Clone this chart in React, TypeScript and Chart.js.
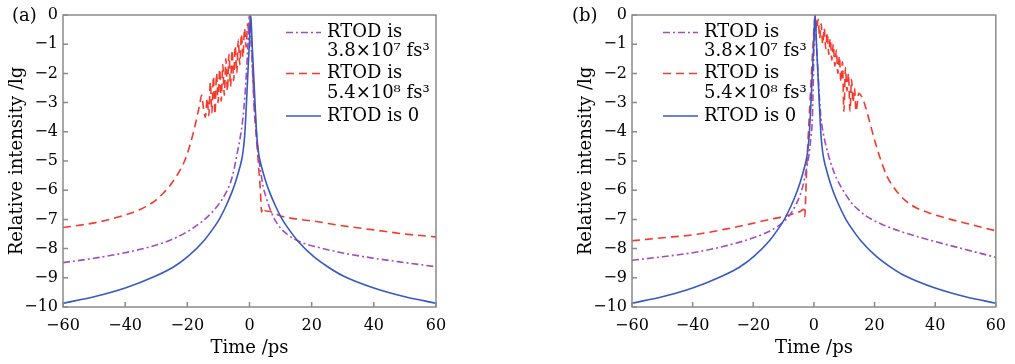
import React, { useEffect, useRef } from 'react';
import { Chart, registerables } from 'chart.js';

Chart.register(...registerables);

// ---------- data ----------
const X_MIN = -60;
const X_MAX = 60;
const X_STEP = 20;
const Y_MIN = -10;
const Y_MAX = 0;
const Y_STEP = 1;

const X_TITLE = 'Time /ps';
const Y_TITLE = 'Relative intensity /lg';
const LEGEND_TEXT = [
  ['RTOD is', '3.8×10⁷ fs³'],
  ['RTOD is', '5.4×10⁸ fs³'],
  ['RTOD is 0'],
];

// RTOD = 0 (same in both panels)
const BLUE_T = [-60, -50, -40, -30, -24.6, -19.6, -14.6, -11.6, -9.6, -7.6, -5.6, -4.6, -3.6, -2.6, -2.1, -1.6, -1.3, -0.9, -0.5, -0.05, 0.4,
  0.85, 1.3, 1.7, 2.1, 2.4, 2.9, 3.4, 4.4, 5.4, 6.4, 8.4, 10.4, 12.4, 15.4, 20.4, 25.4, 30, 40, 50, 60];
const BLUE_V = [-9.87, -9.65, -9.35, -8.93, -8.64, -8.25, -7.72, -7.3, -6.97, -6.55, -6.05, -5.75, -5.4, -5.0, -4.7, -4.2, -3.7, -2.85, -1.95, -1.0, 0,
  -1.0, -1.95, -2.85, -3.7, -4.2, -4.7, -5.0, -5.4, -5.75, -6.05, -6.55, -6.97, -7.3, -7.72, -8.25, -8.64, -8.93, -9.35, -9.65, -9.87];

// panel (a): RTOD = 3.8e7 fs^3
const A_PURPLE_T = [-60, -50, -40, -30, -25, -20, -15, -12, -10, -8, -6, -5, -4, -3, -2.2, -1.5, -1, -0.5, 0,
  0.5, 1, 1.5, 1.9, 2.8, 3.5, 4.4, 5.5, 7, 8.2, 10, 12, 14, 17, 20, 30, 40, 50, 60];
const A_PURPLE_V = [-8.48, -8.33, -8.14, -7.88, -7.69, -7.42, -7.05, -6.75, -6.5, -6.17, -5.7, -5.3, -4.75, -4.2, -3.6, -2.8, -2.0, -1.0, 0,
  -0.9, -2.0, -3.0, -3.6, -4.73, -5.3, -5.88, -6.3, -6.75, -7.02, -7.3, -7.5, -7.65, -7.8, -7.9, -8.15, -8.33, -8.48, -8.62];

// panel (a): RTOD = 5.4e8 fs^3
const A_RED_T = [-60, -50, -45, -40, -35, -32, -30, -28, -26, -24, -22, -20.5, -19, -18, -17, -16, -15.4,
  -14.8, -14.2, -13.6, -13.1, -12.6, -12.1, -11.6, -11.1, -10.6, -10.1, -9.6, -9.1, -8.6, -8.1, -7.6, -7.1, -6.6, -6.1, -5.6, -5.1, -4.6, -4.1, -3.6, -3.1, -2.6, -2.1, -1.6, -1.1, -0.6, -0.2, 0.2,
  0.5, 1.0, 1.5, 2.0, 2.5, 3.0, 3.5, 3.9, 4.3, 5.0, 6.6, 10, 16, 20, 30, 40, 50, 60];
const A_RED_V = [-7.28, -7.12, -7.0, -6.85, -6.65, -6.48, -6.33, -6.13, -5.9, -5.6, -5.25, -4.9, -4.4, -4.0, -3.55, -3.05, -2.74,
  -3.2, -3.5, -2.85, -3.45, -2.3, -3.35, -2.1, -3.4, -2.0, -3.0, -1.85, -2.95, -1.7, -2.75, -1.5, -2.6, -1.35, -2.45, -1.2, -2.25, -1.05, -2.0, -0.85, -1.7, -0.65, -1.45, -0.45, -1.1, -0.3, -0.6, 0,
  -0.5, -1.8, -3.2, -3.9, -4.6, -5.3, -6.0, -6.75, -6.6, -6.7, -6.73, -6.88, -7.0, -7.05, -7.22, -7.36, -7.5, -7.6];

// panel (b): RTOD = 3.8e7 fs^3
const B_PURPLE_T = [-60, -50, -40, -30, -20, -15, -12, -10, -8.5, -7, -5.5, -4.5, -3.5, -2.6, -1.55, -1, -0.5, -0.2, 0.1, 0.3,
  0.7, 1.2, 1.8, 2.4, 3.0, 3.8, 4.6, 5.5, 6.5, 7.5, 8.9, 10.5, 12.5, 15, 17, 20, 25, 30, 40, 50, 60];
const B_PURPLE_V = [-8.4, -8.28, -8.14, -7.93, -7.63, -7.42, -7.24, -7.08, -6.92, -6.7, -6.4, -6.15, -5.8, -5.35, -4.73, -4.2, -3.5, -2.2, -0.6, 0,
  -0.7, -1.7, -2.8, -3.6, -4.0, -4.4, -4.73, -5.05, -5.35, -5.6, -5.88, -6.15, -6.45, -6.7, -6.87, -7.05, -7.28, -7.46, -7.76, -8.03, -8.3];

// panel (b): RTOD = 5.4e8 fs^3
const B_RED_T = [-60, -50, -40, -30, -20, -15.4, -10, -6, -4.5, -3.3, -3.0, -2.7, -2.4, -2.0, -1.6, -1.0, -0.4, 0.2, 0.5,
  0.9, 1.4, 1.9, 2.4, 2.9, 3.4, 3.9, 4.4, 4.9, 5.4, 5.9, 6.4, 6.9, 7.4, 7.9, 8.4, 8.9, 9.4, 9.9, 10.4, 10.9, 11.4, 11.9, 12.4, 12.9, 13.4, 13.9, 14.8,
  16, 17, 18.5, 20, 22, 24, 27, 30, 34, 37.5, 40, 50, 60];
const B_RED_V = [-7.73, -7.63, -7.53, -7.35, -7.13, -7.02, -6.9, -6.78, -6.73, -6.65, -6.9, -6.2, -5.3, -4.4, -3.6, -2.4, -1.2, -0.2, 0,
  -0.5, -0.15, -0.8, -0.3, -1.0, -0.45, -1.15, -0.6, -1.35, -0.8, -1.55, -1.0, -1.75, -1.2, -2.0, -1.4, -2.3, -1.6, -3.3, -1.8, -2.6, -2.0, -3.3, -2.2, -3.0, -2.5, -3.3, -2.68,
  -2.85, -3.14, -3.7, -4.28, -4.95, -5.5, -6.0, -6.34, -6.62, -6.76, -6.85, -7.13, -7.39];

// ---------- styles ----------
const PURPLE = '#a24bc2';
const RED = '#f5392c';
const BLUE = '#3759c4';
const FRAME = '#8a8a8a';
const TEXT = '#000';
const FONT = "'DejaVu Serif', 'Liberation Serif', serif";

const toXY = (t: number[], v: number[]) => t.map((x, i) => ({ x, y: v[i] }));
const fmt = (v: number | string) => String(v).replace('-', '\u2212');

const framePlugin = {
  id: 'frame',
  afterDatasetsDraw(chart: any, _args: any, opts: any) {
    const { ctx, chartArea } = chart;
    const { left, right, top, bottom } = chartArea;
    const xs = chart.scales.x;
    const ys = chart.scales.y;
    ctx.save();
    ctx.strokeStyle = FRAME;
    ctx.lineWidth = 1.5;
    ctx.setLineDash([]);
    ctx.strokeRect(left, top, right - left, bottom - top);
    ctx.beginPath();
    xs.ticks.forEach((t: any) => {
      const px = xs.getPixelForValue(t.value);
      ctx.moveTo(px, bottom);
      ctx.lineTo(px, bottom - 5);
    });
    ys.ticks.forEach((t: any) => {
      const py = ys.getPixelForValue(t.value);
      ctx.moveTo(left, py);
      ctx.lineTo(left + 5, py);
    });
    ctx.stroke();

    const lx = left + opts.legendX;
    const rowY = [17.5, 36.5, 58.5, 78.5, 101];
    let row = 0;
    ctx.font = `18px ${FONT}`;
    ctx.textBaseline = 'middle';
    ctx.textAlign = 'left';
    chart.data.datasets.forEach((ds: any, i: number) => {
      const lines = opts.legendText[i];
      const y0 = top + rowY[row];
      ctx.strokeStyle = ds.borderColor;
      ctx.lineWidth = 1.6;
      ctx.setLineDash(ds.borderDash || []);
      ctx.beginPath();
      ctx.moveTo(lx, y0);
      ctx.lineTo(lx + 35, y0);
      ctx.stroke();
      ctx.setLineDash([]);
      ctx.fillStyle = TEXT;
      lines.forEach((s: string) => {
        ctx.fillText(s, lx + 41, top + rowY[row]);
        row++;
      });
    });

    ctx.font = `18px ${FONT}`;
    ctx.fillStyle = TEXT;
    ctx.textAlign = 'left';
    ctx.textBaseline = 'middle';
    ctx.fillText(opts.label, opts.labelX, top + 1);
    ctx.restore();
  },
};

type PanelProps = {
  left: number;
  width: number;
  padRight: number;
  label: string;
  labelX: number;
  legendX: number;
  redT: number[];
  redV: number[];
  purpleT: number[];
  purpleV: number[];
};

function Panel(p: PanelProps) {
  const ref = useRef<HTMLCanvasElement | null>(null);
  useEffect(() => {
    if (!ref.current) return;
    const common = {
      borderWidth: 1.6,
      pointRadius: 0,
      cubicInterpolationMode: 'monotone',
    };
    const chart = new Chart(ref.current, {
      type: 'line',
      data: {
        datasets: [
          {
            ...common,
            label: 'RTOD is 3.8×10⁷ fs³',
            data: toXY(p.purpleT, p.purpleV),
            borderColor: PURPLE,
            borderDash: [7, 3, 2, 3],
            order: 2,
          },
          {
            ...common,
            label: 'RTOD is 5.4×10⁸ fs³',
            data: toXY(p.redT, p.redV),
            borderColor: RED,
            borderDash: [8, 5],
            order: 3,
          },
          {
            ...common,
            label: 'RTOD is 0',
            data: toXY(BLUE_T, BLUE_V),
            borderColor: BLUE,
            order: 1,
          },
        ],
      },
      options: {
        animation: false,
        responsive: false,
        maintainAspectRatio: false,
        layout: { padding: { top: 15, left: 0, right: p.padRight, bottom: 0 } },
        plugins: {
          legend: { display: false },
          tooltip: { enabled: false },
          frame: { legendX: p.legendX, legendText: LEGEND_TEXT, label: p.label, labelX: p.labelX },
        } as any,
        scales: {
          x: {
            type: 'linear',
            min: X_MIN,
            max: X_MAX,
            grid: { display: false, drawTicks: false },
            border: { display: false },
            ticks: {
              stepSize: X_STEP,
              padding: 9,
              color: TEXT,
              font: { family: FONT, size: 16 },
              callback: (v: any) => fmt(v),
              maxRotation: 0,
            },
            title: {
              display: true,
              text: X_TITLE,
              color: TEXT,
              font: { family: FONT, size: 18 },
              padding: { top: 0, bottom: 5 },
            },
            afterFit: (s: any) => {
              s.height = 57;
            },
          },
          y: {
            type: 'linear',
            min: Y_MIN,
            max: Y_MAX,
            grid: { display: false, drawTicks: false },
            border: { display: false },
            ticks: {
              stepSize: Y_STEP,
              padding: 5,
              color: TEXT,
              font: { family: FONT, size: 16 },
              callback: (v: any) => fmt(v),
              autoSkip: false,
            },
            title: {
              display: true,
              text: Y_TITLE,
              color: TEXT,
              font: { family: FONT, size: 18 },
              padding: { top: 7, bottom: 0 },
            },
            afterFit: (s: any) => {
              s.width = 63;
            },
          },
        },
      },
      plugins: [framePlugin],
    } as any);
    return () => chart.destroy();
  }, []);
  return (
    <canvas
      ref={ref}
      width={p.width}
      height={364}
      style={{ position: 'absolute', left: p.left, top: 0, width: p.width, height: 364 }}
    />
  );
}

export default function App() {
  return (
    <div style={{ position: 'absolute', left: 0, top: 0, width: 1015, height: 364, background: '#fff', overflow: 'hidden' }}>
      <Panel left={0} width={569} padRight={133} label="(a)" labelX={12} legendX={223}
        redT={A_RED_T} redV={A_RED_V} purpleT={A_PURPLE_T} purpleV={A_PURPLE_V} />
      <Panel left={569} width={446} padRight={12} label="(b)" labelX={3} legendX={31}
        redT={B_RED_T} redV={B_RED_V} purpleT={B_PURPLE_T} purpleV={B_PURPLE_V} />
    </div>
  );
}
